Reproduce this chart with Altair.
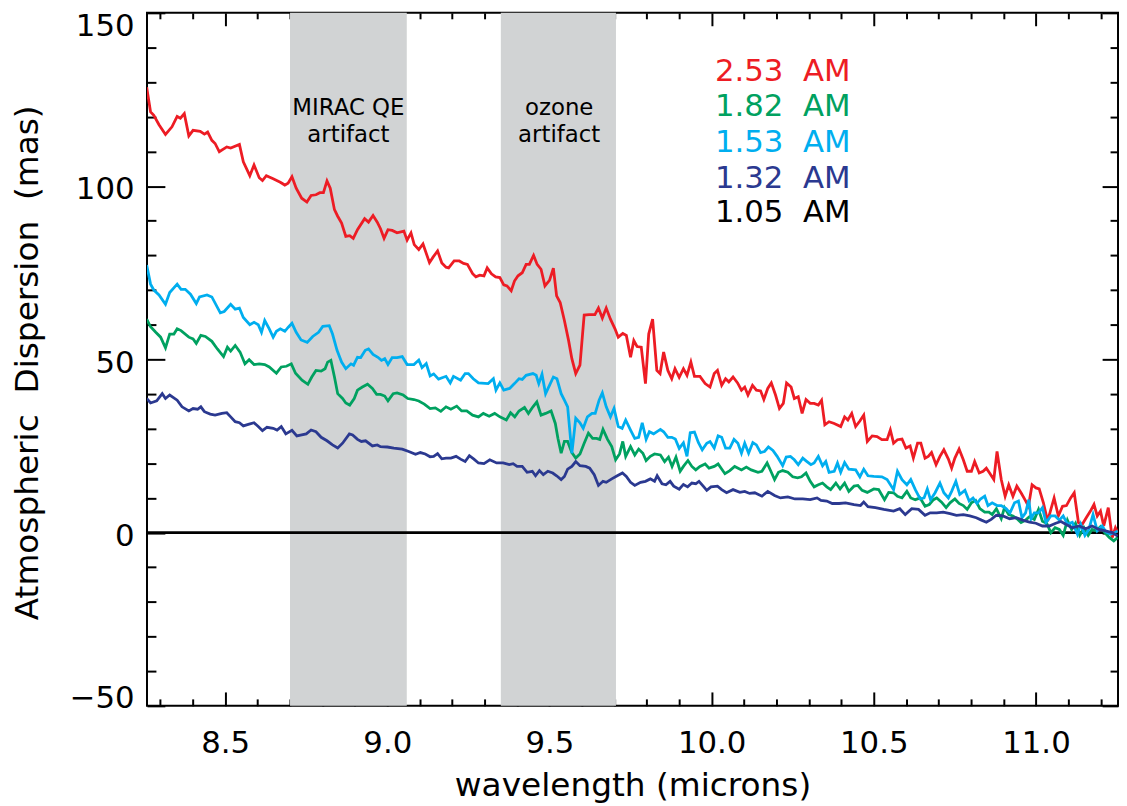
import altair as alt
import pandas as pd

FONT = "DejaVu Sans"

# ---------------- data ----------------
red_x = [8.258, 8.270, 8.280, 8.296, 8.316, 8.336, 8.352, 8.362, 8.374, 8.388, 8.401, 8.423, 8.436, 8.446,
         8.459, 8.469, 8.482, 8.505, 8.517, 8.544, 8.556, 8.576, 8.589, 8.605, 8.615, 8.627, 8.648, 8.670,
         8.684, 8.694, 8.706, 8.719, 8.736, 8.752, 8.765, 8.780, 8.792, 8.803, 8.814, 8.824, 8.837, 8.847,
         8.859, 8.872, 8.884, 8.895, 8.908, 8.930, 8.942, 8.956, 8.969, 8.979, 8.990, 9.002, 9.015, 9.030,
         9.051, 9.061, 9.073, 9.083, 9.097, 9.110, 9.130, 9.141, 9.155, 9.168, 9.181, 9.189, 9.206, 9.222,
         9.235, 9.247, 9.263, 9.273, 9.285, 9.298, 9.308, 9.321, 9.334, 9.347, 9.359, 9.369, 9.382, 9.392,
         9.403, 9.416, 9.428, 9.438, 9.451, 9.462, 9.474, 9.486, 9.500, 9.512, 9.522, 9.533, 9.546, 9.559,
         9.569, 9.581, 9.594, 9.602, 9.607, 9.622, 9.640, 9.651, 9.663, 9.675, 9.688, 9.702, 9.712, 9.726,
         9.737, 9.750, 9.760, 9.770, 9.783, 9.796, 9.806, 9.818, 9.831, 9.841, 9.852, 9.865, 9.877, 9.887,
         9.900, 9.913, 9.924, 9.936, 9.947, 9.964, 9.980, 9.995, 10.008, 10.018, 10.031, 10.043, 10.053,
         10.066, 10.080, 10.092, 10.102, 10.112, 10.126, 10.138, 10.151, 10.161, 10.173, 10.184, 10.197,
         10.209, 10.221, 10.231, 10.245, 10.255, 10.267, 10.279, 10.291, 10.304, 10.316, 10.329, 10.339,
         10.349, 10.362, 10.378, 10.398, 10.410, 10.420, 10.432, 10.444, 10.457, 10.469, 10.480, 10.495,
         10.510, 10.525, 10.541, 10.551, 10.561, 10.573, 10.587, 10.599, 10.612, 10.622, 10.635, 10.645,
         10.658, 10.668, 10.678, 10.692, 10.704, 10.716, 10.730, 10.740, 10.750, 10.763, 10.776, 10.788,
         10.801, 10.811, 10.825, 10.837, 10.847, 10.857, 10.870, 10.880, 10.893, 10.905, 10.916, 10.929,
         10.941, 10.954, 10.966, 10.977, 10.988, 11.000, 11.010, 11.023, 11.036, 11.046, 11.056, 11.069,
         11.082, 11.094, 11.107, 11.118, 11.131, 11.143, 11.155, 11.168, 11.179, 11.189, 11.199, 11.209,
         11.223, 11.235, 11.245, 11.252]
red_y = [128.5, 121.4, 120.4, 117.7, 114.9, 117.1, 120.1, 119.6, 120.9, 114.5, 116.1, 115.8, 115.0, 115.6,
         113.2, 112.3, 109.9, 111.3, 111.0, 112.0, 107.0, 103.0, 106.1, 102.4, 101.6, 103.0, 102.1, 101.1,
         100.3, 100.8, 102.7, 99.4, 96.5, 95.4, 97.3, 97.5, 98.1, 98.1, 101.5, 99.4, 93.2, 91.3,
         89.3, 85.5, 85.7, 84.9, 87.4, 90.6, 89.6, 91.5, 89.6, 87.7, 84.9, 87.4, 87.2, 86.5,
         87.0, 84.4, 86.5, 83.1, 81.7, 83.3, 77.9, 79.5, 81.3, 77.8, 76.6, 76.4, 78.4, 78.4,
         77.7, 77.4, 74.7, 73.8, 74.3, 74.1, 76.4, 74.7, 73.8, 73.6, 71.5, 71.2, 69.8, 72.6,
         74.1, 75.0, 77.4, 77.4, 80.0, 77.4, 76.0, 71.2, 72.8, 76.3, 68.3, 66.4, 61.2, 55.4,
         50.2, 45.9, 48.3, 57.3, 62.8, 62.9, 62.9, 64.8, 61.9, 64.8, 61.6, 58.8, 56.4, 57.5,
         56.9, 50.6, 55.4, 53.7, 53.5, 43.0, 57.3, 61.6, 46.8, 45.9, 52.1, 46.8, 44.4, 47.3,
         44.8, 47.3, 45.4, 49.2, 45.1, 45.1, 43.0, 42.0, 45.9, 46.8, 42.5, 44.4, 43.5,
         44.9, 43.2, 41.1, 42.0, 39.7, 42.5, 41.1, 40.9, 38.4, 41.6, 43.2, 39.7,
         35.8, 37.3, 43.2, 42.0, 38.7, 39.2, 34.4, 38.4, 37.3, 37.3, 36.8, 38.2,
         31.1, 32.0, 31.5, 30.6, 33.4, 32.5, 34.4, 30.6, 32.2, 33.9, 26.3, 27.9,
         27.7, 26.8, 26.8, 29.6, 25.8, 26.8, 27.0, 24.4, 25.0, 21.5, 25.8, 25.8,
         21.5, 22.0, 23.1, 19.6, 22.0, 23.9, 21.2, 18.6, 21.5, 24.1, 21.0, 17.7,
         17.7, 20.5, 17.2, 17.7, 18.6, 17.2, 15.3, 23.4, 15.3, 10.5, 13.8, 10.5,
         13.4, 11.5, 9.5, 7.6, 13.8, 12.9, 12.6, 8.6, 3.3, 6.7, 10.0, 4.8,
         7.6, 7.8, 10.0, 11.5, 2.9, 2.4, 4.3, 6.2, 8.1, 4.8, 6.2, 1.9,
         7.2, -1.4, 1.4, 0.0]

green_x = [8.258, 8.270, 8.286, 8.301, 8.316, 8.329, 8.342, 8.352, 8.364, 8.388, 8.401, 8.411, 8.425, 8.439,
           8.459, 8.476, 8.495, 8.507, 8.517, 8.531, 8.546, 8.561, 8.574, 8.589, 8.605, 8.622, 8.636, 8.658,
           8.673, 8.689, 8.704, 8.717, 8.737, 8.755, 8.767, 8.780, 8.796, 8.808, 8.816, 8.826, 8.837, 8.847,
           8.862, 8.872, 8.884, 8.898, 8.908, 8.923, 8.939, 8.954, 8.967, 8.979, 8.992, 9.002, 9.018, 9.030,
           9.049, 9.063, 9.082, 9.097, 9.114, 9.132, 9.148, 9.165, 9.181, 9.196, 9.214, 9.229, 9.245, 9.263,
           9.281, 9.296, 9.314, 9.331, 9.347, 9.367, 9.380, 9.393, 9.406, 9.423, 9.435, 9.449, 9.461, 9.474,
           9.488, 9.505, 9.518, 9.526, 9.536, 9.546, 9.556, 9.569, 9.581, 9.594, 9.607, 9.620, 9.633, 9.645,
           9.655, 9.665, 9.679, 9.692, 9.704, 9.716, 9.726, 9.735, 9.750, 9.763, 9.775, 9.788, 9.798, 9.811,
           9.824, 9.842, 9.855, 9.867, 9.878, 9.890, 9.903, 9.913, 9.927, 9.939, 9.951, 9.964, 9.980, 9.992,
           10.008, 10.020, 10.041, 10.056, 10.071, 10.092, 10.107, 10.122, 10.143, 10.155, 10.171, 10.184,
           10.194, 10.206, 10.219, 10.235, 10.250, 10.265, 10.277, 10.291, 10.304, 10.316, 10.329, 10.342,
           10.355, 10.367, 10.383, 10.396, 10.410, 10.423, 10.439, 10.451, 10.464, 10.480, 10.500, 10.515,
           10.533, 10.546, 10.561, 10.573, 10.587, 10.602, 10.614, 10.628, 10.643, 10.658, 10.671, 10.684,
           10.694, 10.709, 10.723, 10.735, 10.750, 10.763, 10.776, 10.788, 10.801, 10.814, 10.827, 10.842,
           10.855, 10.865, 10.878, 10.893, 10.903, 10.916, 10.929, 10.944, 10.954, 10.968, 10.980, 10.995,
           11.008, 11.020, 11.033, 11.046, 11.059, 11.072, 11.084, 11.097, 11.110, 11.122, 11.135, 11.148,
           11.161, 11.173, 11.186, 11.199, 11.212, 11.226, 11.240, 11.252]
green_y = [61.6, 59.4, 57.8, 56.4, 53.3, 57.3, 57.3, 58.8, 58.3, 56.4, 55.9, 54.6, 56.9, 56.6,
           55.2, 53.0, 50.8, 53.5, 52.4, 54.0, 52.1, 48.7, 49.9, 48.5, 48.7, 48.5, 47.8, 46.0,
           47.8, 48.0, 48.7, 46.0, 44.0, 42.8, 44.9, 46.8, 46.6, 47.3, 49.2, 49.7, 44.9, 40.1,
           38.7, 37.4, 36.8, 38.7, 41.1, 42.0, 42.8, 41.6, 39.9, 39.9, 39.4, 38.0, 40.1, 40.3,
           39.7, 38.7, 38.4, 38.0, 37.1, 35.8, 36.0, 35.0, 36.3, 35.6, 36.5, 35.1, 35.1, 33.9,
           33.4, 34.4, 33.6, 34.4, 33.4, 32.5, 34.6, 33.4, 35.1, 36.1, 34.4, 36.3, 37.7, 33.9,
           34.4, 35.1, 31.5, 27.2, 22.9, 26.3, 26.3, 23.1, 21.5, 22.7, 25.8, 28.7, 27.2, 27.2,
           26.9, 29.8, 26.9, 24.8, 21.0, 22.7, 26.3, 22.0, 24.8, 22.4, 24.1, 22.9, 20.8, 22.0,
           22.7, 22.4, 20.5, 21.8, 19.1, 21.8, 17.7, 19.1, 20.8, 19.1, 18.1, 19.1, 19.8, 18.6,
           19.1, 19.8, 17.0, 17.9, 19.1, 18.1, 18.9, 18.1, 17.4, 17.7, 20.1, 17.4,
           15.3, 17.4, 17.9, 17.4, 16.1, 15.8, 16.1, 17.2, 14.8, 13.2, 13.8, 14.3,
           13.2, 12.4, 14.3, 12.6, 14.3, 11.9, 13.4, 13.6, 12.2, 11.6, 12.6, 12.4,
           9.5, 11.6, 11.5, 10.5, 10.0, 11.9, 10.0, 9.5, 10.0, 7.6, 8.1, 9.5,
           10.0, 8.8, 7.2, 8.6, 9.7, 8.4, 7.8, 6.7, 8.6, 9.3, 6.9, 5.9,
           5.9, 5.2, 6.9, 4.0, 7.2, 5.2, 4.8, 3.8, 2.9, 3.6, 4.6, 3.8,
           6.7, 3.3, 2.7, 0.0, 1.4, 0.9, -0.8, 3.6, 0.9, 2.7, -0.8, 1.4,
           -0.8, 0.9, 0.5, 1.7, 0.0, -1.4, -2.4, -1.4]

lblue_x = [8.258, 8.270, 8.280, 8.296, 8.316, 8.329, 8.352, 8.364, 8.377, 8.393, 8.411, 8.421, 8.444, 8.459,
           8.485, 8.497, 8.517, 8.531, 8.544, 8.556, 8.576, 8.589, 8.602, 8.612, 8.622, 8.636, 8.648, 8.658,
           8.670, 8.684, 8.694, 8.706, 8.719, 8.734, 8.753, 8.770, 8.788, 8.801, 8.821, 8.831, 8.845, 8.859,
           8.872, 8.888, 8.896, 8.908, 8.918, 8.932, 8.942, 8.956, 8.971, 8.982, 8.992, 9.002, 9.015, 9.030,
           9.046, 9.061, 9.082, 9.097, 9.107, 9.120, 9.132, 9.143, 9.158, 9.181, 9.194, 9.204, 9.226, 9.240,
           9.250, 9.265, 9.281, 9.311, 9.327, 9.335, 9.347, 9.359, 9.377, 9.392, 9.406, 9.416, 9.428, 9.449,
           9.459, 9.467, 9.477, 9.488, 9.500, 9.512, 9.523, 9.536, 9.546, 9.556, 9.569, 9.581, 9.594, 9.604,
           9.617, 9.631, 9.641, 9.653, 9.663, 9.675, 9.688, 9.699, 9.712, 9.724, 9.735, 9.750, 9.763, 9.775,
           9.786, 9.798, 9.808, 9.821, 9.842, 9.852, 9.865, 9.877, 9.888, 9.900, 9.913, 9.924, 9.934, 9.947,
           9.959, 9.971, 9.985, 9.995, 10.008, 10.020, 10.031, 10.043, 10.056, 10.069, 10.081, 10.092,
           10.102, 10.114, 10.127, 10.138, 10.151, 10.163, 10.175, 10.189, 10.202, 10.219, 10.230, 10.243,
           10.255, 10.267, 10.281, 10.294, 10.306, 10.316, 10.329, 10.342, 10.352, 10.362, 10.378, 10.388,
           10.398, 10.410, 10.423, 10.444, 10.457, 10.469, 10.482, 10.500, 10.525, 10.541, 10.561, 10.573,
           10.587, 10.602, 10.614, 10.628, 10.643, 10.655, 10.665, 10.675, 10.689, 10.704, 10.716, 10.730,
           10.740, 10.753, 10.765, 10.781, 10.794, 10.806, 10.818, 10.829, 10.842, 10.852, 10.865, 10.880,
           10.893, 10.908, 10.920, 10.934, 10.946, 10.957, 10.968, 10.978, 10.985, 10.995, 11.008, 11.020,
           11.031, 11.046, 11.059, 11.072, 11.084, 11.097, 11.112, 11.128, 11.138, 11.151, 11.163, 11.176,
           11.189, 11.204, 11.216, 11.230, 11.243, 11.252]
lblue_y = [77.2, 71.7, 70.0, 68.6, 65.9, 69.3, 71.7, 70.2, 70.2, 68.8, 66.1, 68.0, 68.6, 68.0,
           63.4, 63.8, 65.9, 64.5, 64.8, 62.1, 60.0, 60.7, 60.0, 57.8, 61.2, 58.8, 56.4, 58.1,
           58.8, 58.1, 59.2, 60.4, 57.8, 55.6, 54.9, 56.6, 57.8, 59.5, 59.7, 57.3, 52.6, 49.2,
           47.3, 48.7, 48.3, 50.6, 50.5, 52.6, 53.0, 51.4, 50.6, 49.7, 50.2, 48.5, 50.5, 50.5,
           50.8, 48.5, 48.5, 49.8, 47.6, 48.8, 45.2, 45.8, 44.3, 45.1, 43.2, 45.1, 44.0, 45.9,
           45.9, 44.4, 43.2, 43.0, 44.4, 41.1, 43.2, 41.1, 41.6, 43.0, 44.4, 44.2, 45.4, 45.9,
           45.4, 43.0, 45.7, 40.1, 42.5, 44.9, 44.4, 40.1, 38.2, 36.3, 22.9, 33.0, 31.7, 30.1,
           33.4, 34.4, 34.4, 38.2, 40.3, 36.3, 33.4, 35.8, 30.6, 30.1, 32.5, 29.6, 27.2, 27.5,
           31.7, 26.9, 29.1, 28.5, 29.8, 29.1, 27.5, 27.5, 27.0, 24.3, 25.9, 22.0, 28.8, 29.0,
           26.0, 23.9, 25.8, 26.3, 24.4, 27.9, 27.5, 24.4, 24.4, 26.9, 25.8, 22.9,
           25.8, 22.9, 26.0, 25.3, 23.1, 23.4, 24.7, 23.7, 22.0, 19.3, 21.8, 22.0,
           21.0, 19.6, 21.5, 20.5, 19.6, 20.1, 22.0, 19.3, 20.5, 17.4, 17.7, 20.1,
           17.4, 20.2, 18.3, 18.1, 16.1, 18.3, 16.4, 16.2, 16.1, 15.3, 12.4, 17.7,
           15.3, 13.8, 15.3, 12.4, 9.7, 10.0, 12.6, 9.5, 11.5, 14.3, 11.5, 10.0,
           11.9, 14.8, 11.0, 12.2, 9.1, 10.0, 8.4, 9.7, 10.5, 7.8, 8.6, 7.8,
           7.8, 6.9, 5.7, 8.6, 9.1, 4.3, 5.7, 9.5, 4.0, 5.7, 5.7, 7.2,
           2.9, 4.8, 4.8, 3.6, 4.8, 2.4, 3.0, -0.5, 2.4, -0.8, 0.9, 5.2,
           0.5, 1.9, 0.2, -0.5, 0.0, 0.5]

dblue_x = [8.258, 8.270, 8.289, 8.306, 8.316, 8.329, 8.352, 8.367, 8.388, 8.401, 8.415, 8.425, 8.436, 8.454,
           8.469, 8.490, 8.505, 8.517, 8.531, 8.544, 8.556, 8.574, 8.589, 8.602, 8.615, 8.629, 8.648, 8.660,
           8.673, 8.687, 8.706, 8.721, 8.736, 8.750, 8.765, 8.780, 8.796, 8.814, 8.831, 8.847, 8.862, 8.883,
           8.893, 8.908, 8.920, 8.933, 8.954, 8.969, 8.979, 9.000, 9.020, 9.046, 9.066, 9.087, 9.102, 9.117,
           9.132, 9.143, 9.155, 9.168, 9.181, 9.196, 9.212, 9.226, 9.240, 9.253, 9.267, 9.281, 9.298, 9.316,
           9.337, 9.357, 9.376, 9.388, 9.400, 9.416, 9.431, 9.447, 9.457, 9.469, 9.481, 9.495, 9.510, 9.522,
           9.536, 9.546, 9.556, 9.569, 9.581, 9.594, 9.612, 9.624, 9.638, 9.651, 9.665, 9.675, 9.692, 9.709,
           9.725, 9.737, 9.750, 9.763, 9.781, 9.796, 9.811, 9.824, 9.832, 9.847, 9.859, 9.872, 9.883, 9.900,
           9.913, 9.926, 9.939, 9.951, 9.961, 9.974, 9.985, 9.998, 10.018, 10.031, 10.046, 10.066, 10.087,
           10.102, 10.117, 10.133, 10.155, 10.173, 10.194, 10.212, 10.235, 10.257, 10.281, 10.304, 10.325,
           10.337, 10.355, 10.372, 10.393, 10.413, 10.439, 10.459, 10.469, 10.482, 10.505, 10.531, 10.561,
           10.580, 10.597, 10.617, 10.638, 10.658, 10.674, 10.694, 10.714, 10.735, 10.755, 10.776, 10.796,
           10.816, 10.832, 10.847, 10.862, 10.878, 10.898, 10.919, 10.939, 10.959, 10.980, 11.000, 11.020,
           11.041, 11.061, 11.077, 11.092, 11.112, 11.133, 11.153, 11.173, 11.194, 11.214, 11.235, 11.252]
dblue_y = [38.7, 37.4, 38.0, 40.1, 38.7, 39.7, 38.2, 36.3, 35.1, 35.8, 35.6, 36.3, 34.9, 34.2,
           33.9, 34.4, 34.6, 33.4, 32.0, 31.7, 30.8, 31.3, 31.7, 30.6, 29.4, 30.4, 30.1, 29.6,
           30.6, 28.5, 29.5, 27.9, 28.2, 28.5, 29.6, 29.1, 27.5, 26.5, 25.3, 24.4, 25.8, 28.5,
           28.2, 26.9, 26.3, 26.5, 25.0, 25.3, 24.8, 24.7, 24.4, 24.1, 23.4, 22.6, 23.1, 22.7,
           21.9, 22.0, 22.8, 21.3, 21.5, 21.5, 22.0, 21.2, 20.5, 22.2, 21.2, 20.1, 19.9, 21.0,
           20.1, 20.1, 19.6, 19.9, 19.1, 19.1, 17.4, 17.7, 16.4, 17.9, 16.7, 17.7, 17.2, 16.4,
           15.3, 16.2, 18.3, 19.1, 20.5, 19.3, 19.1, 18.6, 16.7, 13.6, 14.8, 14.5, 15.5, 16.4,
           17.2, 16.2, 14.5, 13.6, 14.5, 14.8, 15.5, 14.8, 16.4, 14.1, 13.8, 14.8, 13.4, 12.5,
           13.9, 13.2, 14.3, 14.1, 14.8, 13.4, 12.2, 13.2, 13.4, 12.4, 11.5, 12.4, 11.6,
           11.9, 11.3, 11.5, 10.5, 11.9, 10.7, 10.0, 10.3, 9.7, 9.7, 9.5, 10.0,
           9.3, 9.1, 8.4, 8.4, 8.6, 8.1, 7.8, 8.8, 7.5, 7.2, 6.7, 6.2,
           6.9, 5.2, 6.9, 6.7, 5.0, 5.7, 5.7, 5.9, 5.5, 5.0, 5.2, 4.8,
           4.3, 3.6, 3.0, 3.8, 5.0, 4.8, 4.0, 4.3, 3.6, 3.0, 2.7, 1.9,
           1.9, 2.7, 3.2, 2.4, 1.4, 1.9, 1.1, 1.9, 0.9, 0.5, 0.0, -1.0]

black_x = [8.259, 11.253]
black_y = [0.0, 0.0]

series_names = ["2.53 AM", "1.82 AM", "1.53 AM", "1.32 AM", "1.05 AM"]
series_colors = ["#ED1C24", "#00A160", "#00AEEF", "#2B3990", "#000000"]

band_start = [8.70, 9.35]
band_end = [9.06, 9.705]

ann_text = ["MIRAC QE\nartifact", "ozone\nartifact"]
ann_x = [8.88, 9.53]
ann_y = [120.4, 120.4]

x_major = [8.5, 9.0, 9.5, 10.0, 10.5, 11.0]
x_minor = [8.3, 8.4, 8.6, 8.7, 8.8, 8.9, 9.1, 9.2, 9.3, 9.4, 9.6, 9.7, 9.8, 9.9,
           10.1, 10.2, 10.3, 10.4, 10.6, 10.7, 10.8, 10.9, 11.1, 11.2]
y_major = [-50, 0, 50, 100, 150]
y_minor = [-40, -30, -20, -10, 10, 20, 30, 40, 60, 70, 80, 90, 110, 120, 130, 140]

# ---------------- layout ----------------
W, H = 978, 698
xs = alt.Scale(domain=[8.259, 11.253], nice=False, zero=False)
ys = alt.Scale(domain=[-50, 150], nice=False, zero=False)


def tick_axis(orient, values, size, **kw):
    return alt.Axis(orient=orient, values=values, tickSize=size, offset=-size,
                    domain=False, grid=False, ticks=True, tickColor="black",
                    tickWidth=2, **kw)


x_bottom_major = tick_axis("bottom", x_major, 14, format=".1f", labelFontSize=31,
                           labelPadding=23, labelFlush=False, labelOverlap=False,
                           title="wavelength (microns)", titleFontSize=33,
                           titleX=W / 2, titleY=104.6, titleAlign="center",
                           titleBaseline="alphabetic")
y_left_major = tick_axis("left", y_major, 18, format="d", labelFontSize=31,
                         labelPadding=13, labelFlush=False, labelOverlap=False,
                         labelOffset={"condition": [
                             {"test": "datum.value == 150", "value": 14},
                             {"test": "datum.value == -50", "value": -7}],
                             "value": 4},
                         title="Atmospheric\u00a0\u00a0Dispersion\u00a0\u00a0(mas)",
                         titleFontSize=33,
                         titleX=-128, titleY=352, titleAngle=270,
                         titleAlign="center", titleBaseline="alphabetic")
x_bottom_minor = tick_axis("bottom", x_minor, 7, labels=False, title=None)
y_left_minor = tick_axis("left", y_minor, 9, labels=False, title=None)
x_top_major = tick_axis("top", x_major, 13, labels=False, title=None)
y_right_major = tick_axis("right", y_major, 16, labels=False, title=None)
x_top_minor = tick_axis("top", x_minor, 6, labels=False, title=None)
y_right_minor = tick_axis("right", y_minor, 8, labels=False, title=None)

# bands
bands = alt.Chart(pd.DataFrame({"start": band_start, "end": band_end})).mark_rect(
    color="#D1D3D4").encode(
    x=alt.X("start:Q", scale=xs, axis=None),
    x2="end:Q",
)

ann = alt.Chart(pd.DataFrame({"t": ann_text, "x": ann_x, "y": ann_y})).mark_text(
    font=FONT, fontSize=23, color="black", align="center", baseline="alphabetic",
    lineBreak="\n", lineHeight=27).encode(
    x=alt.X("x:Q", scale=xs, axis=None),
    y=alt.Y("y:Q", scale=ys, axis=None),
    text="t:N",
)


def line_layer(xv, yv, color, xaxis, yaxis, width=2.8):
    df = pd.DataFrame({"wavelength": xv, "dispersion": yv})
    return alt.Chart(df).mark_line(color=color, strokeWidth=width, clip=True).encode(
        x=alt.X("wavelength:Q", scale=xs, axis=xaxis),
        y=alt.Y("dispersion:Q", scale=ys, axis=yaxis),
    )


black_line = line_layer(black_x, black_y, series_colors[4], None, None, 2.6)
red_line = line_layer(red_x, red_y, series_colors[0], x_bottom_major, y_left_major)
green_line = line_layer(green_x, green_y, series_colors[1], x_bottom_minor, y_left_minor)
lblue_line = line_layer(lblue_x, lblue_y, series_colors[2], x_top_major, y_right_major)
dblue_line = line_layer(dblue_x, dblue_y, series_colors[3], x_top_minor, y_right_minor)

legend_rows = [68.3, 104, 140, 176, 211]
legend_layers = []
for name, col, ry in zip(series_names, series_colors, legend_rows):
    label = name.replace(" ", "\u00a0\u00a0")
    legend_layers.append(
        alt.Chart(pd.DataFrame({"label": [label]})).mark_text(
            font=FONT, fontSize=31, color=col, align="left", baseline="alphabetic").encode(
            x=alt.value(572), y=alt.value(ry), text="label:N")
    )

chart = alt.layer(
    bands, ann, black_line, red_line, green_line, lblue_line, dblue_line, *legend_layers
).resolve_axis(
    x="independent", y="independent"
).properties(
    width=W, height=H,
    autosize=alt.AutoSizeParams(type="none"),
    padding={"left": 140, "top": 2, "right": 1, "bottom": 98},
    background="white",
).configure_view(
    stroke="black", strokeWidth=2
).configure_axis(
    labelFont=FONT, titleFont=FONT, labelColor="black", titleColor="black",
    titleFontWeight="normal"
)

chart.save("out.html", embed_options={"renderer": "svg", "actions": False})
